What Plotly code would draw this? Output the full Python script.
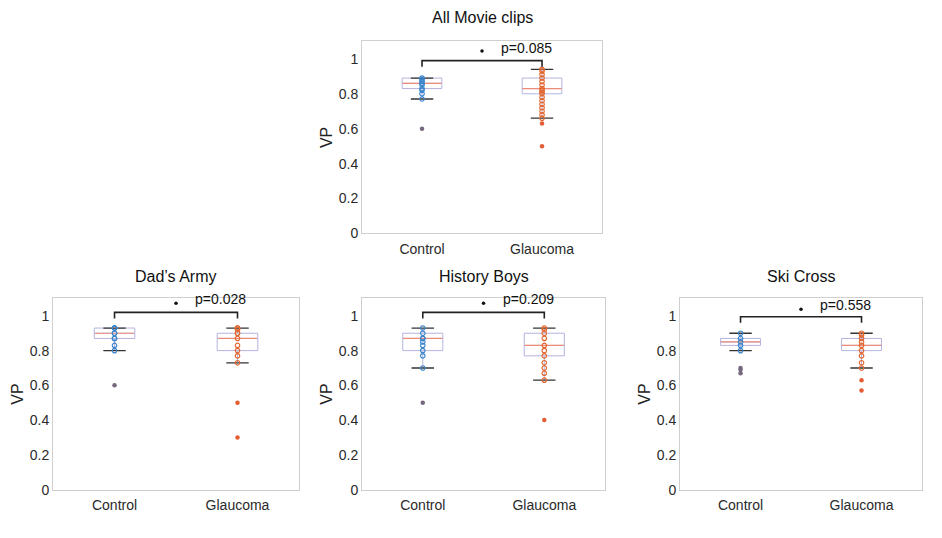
import plotly.graph_objects as go

# ---------------- data ----------------
panels = ["All Movie clips", "Dad\u2019s Army", "History Boys", "Ski Cross"]
groups = ["Control", "Glaucoma"]
p_values = ["p=0.085", "p=0.028", "p=0.209", "p=0.558"]

# box statistics [Control, Glaucoma] per panel
q1 = [[0.83, 0.80], [0.87, 0.80], [0.80, 0.77], [0.83, 0.80]]
median = [[0.86, 0.83], [0.90, 0.87], [0.87, 0.83], [0.85, 0.83]]
q3 = [[0.89, 0.89], [0.93, 0.90], [0.90, 0.90], [0.87, 0.87]]
lowerfence = [[0.77, 0.66], [0.80, 0.73], [0.70, 0.63], [0.80, 0.70]]
upperfence = [[0.89, 0.94], [0.93, 0.93], [0.93, 0.93], [0.90, 0.90]]

# individual observations inside whiskers
control_points = [
    [0.77, 0.80, 0.82, 0.83, 0.85, 0.86, 0.87, 0.88, 0.89],
    [0.80, 0.83, 0.87, 0.87, 0.90, 0.90, 0.93, 0.93, 0.93],
    [0.70, 0.77, 0.80, 0.83, 0.85, 0.87, 0.87, 0.90, 0.93],
    [0.80, 0.83, 0.85, 0.87, 0.90],
]
glaucoma_points = [
    [0.66, 0.68, 0.70, 0.72, 0.74, 0.76, 0.78, 0.80, 0.81, 0.82, 0.83, 0.85,
     0.87, 0.89, 0.91, 0.93, 0.94],
    [0.73, 0.77, 0.80, 0.83, 0.87, 0.90, 0.90, 0.92, 0.93, 0.93],
    [0.63, 0.67, 0.70, 0.73, 0.77, 0.80, 0.83, 0.87, 0.90, 0.92, 0.93],
    [0.70, 0.73, 0.77, 0.80, 0.83, 0.85, 0.87, 0.89, 0.90],
]
control_outliers = [[0.60], [0.60], [0.50], [0.70, 0.69, 0.67]]
glaucoma_outliers = [[0.63, 0.50], [0.50, 0.30], [0.40], [0.63, 0.57]]

# ---------------- layout settings ----------------
x_domains = [[0.3843, 0.6391], [0.0563, 0.3174], [0.3843, 0.6423], [0.7219, 0.9788]]
y_domains = [[0.5595, 0.9219], [0.0762, 0.4368], [0.0762, 0.4368], [0.0762, 0.4368]]
bracket_y = [0.99, 1.02, 1.02, 0.995]
star_y = [1.045, 1.072, 1.072, 1.038]
text_y = [1.06, 1.095, 1.095, 1.06]
title_y = [0.9665, 0.4777, 0.4777, 0.4777]

BOX_COLOR = "#b4b4e0"
MED_COLOR = "#ec8c78"
CAP_COLOR = "#333333"
COLORS = ["#3a85cc", "#e2662f"]
OUT_COLORS = ["#76687e", "#e65c34"]
FONT = "Liberation Sans, Arial, sans-serif"

fig = go.Figure()
layout = dict(
    width=942, height=538, margin=dict(l=0, r=0, t=0, b=0),
    paper_bgcolor="white", plot_bgcolor="white", showlegend=False,
    font=dict(family=FONT, color="#333333"),
)
annotations = []

for i in range(4):
    ax = "" if i == 0 else str(i + 1)
    xref, yref = "x" + ax, "y" + ax
    xs = [1, 2]
    # boxes
    fig.add_trace(go.Box(
        x=xs, q1=q1[i], median=median[i], q3=q3[i],
        lowerfence=lowerfence[i], upperfence=upperfence[i],
        width=0.33, whiskerwidth=0, boxpoints=False,
        line=dict(color=BOX_COLOR, width=1), fillcolor="rgba(0,0,0,0)",
        xaxis=xref, yaxis=yref, hoverinfo="skip",
    ))
    # median lines
    fig.add_trace(go.Scatter(
        x=xs, y=median[i], mode="markers", xaxis=xref, yaxis=yref,
        marker=dict(symbol="line-ew", size=28, line=dict(color=MED_COLOR, width=1.2)),
        hoverinfo="skip",
    ))
    # whisker caps
    for fence in (lowerfence[i], upperfence[i]):
        fig.add_trace(go.Scatter(
            x=xs, y=fence, mode="markers", xaxis=xref, yaxis=yref,
            marker=dict(symbol="line-ew", size=16, line=dict(color=CAP_COLOR, width=1.3)),
            hoverinfo="skip",
        ))
    # observations
    for g, pts, outs in ((0, control_points[i], control_outliers[i]),
                         (1, glaucoma_points[i], glaucoma_outliers[i])):
        fig.add_trace(go.Scatter(
            x=[xs[g]] * len(pts), y=pts, mode="markers", xaxis=xref, yaxis=yref,
            marker=dict(symbol="circle-open", size=4.5, color=COLORS[g], line=dict(width=1.2)),
        ))
        fig.add_trace(go.Scatter(
            x=[xs[g]] * len(outs), y=outs, mode="markers", xaxis=xref, yaxis=yref,
            marker=dict(symbol="circle", size=4.5, color=OUT_COLORS[g]),
        ))
    # significance bracket
    b = bracket_y[i]
    fig.add_trace(go.Scatter(
        x=[1, 1, 2, 2], y=[b - 0.035, b, b, b - 0.035], mode="lines",
        xaxis=xref, yaxis=yref, line=dict(color="#222222", width=1.6),
        hoverinfo="skip",
    ))
    fig.add_trace(go.Scatter(
        x=[1.5], y=[star_y[i]], mode="markers", xaxis=xref, yaxis=yref,
        marker=dict(symbol="circle", size=3.5, color="#111111"), hoverinfo="skip",
    ))
    annotations.append(dict(
        x=1.64, y=text_y[i], xref=xref, yref=yref, text=p_values[i],
        showarrow=False, xanchor="left", yanchor="middle",
        font=dict(size=14, color="#111111", family=FONT),
    ))
    # panel title
    annotations.append(dict(
        x=sum(x_domains[i]) / 2, y=title_y[i], xref="paper", yref="paper",
        text=panels[i], showarrow=False, xanchor="center", yanchor="middle",
        font=dict(size=16, color="#111111", family=FONT),
    ))
    layout["xaxis" + ax] = dict(
        domain=x_domains[i], anchor=yref, range=[0.5, 2.5],
        tickvals=xs, ticktext=groups, showgrid=False, zeroline=False,
        showline=True, mirror=True, linecolor="#cfcfcf", linewidth=1,
        ticks="", ticklabelstandoff=3, tickfont=dict(size=14, color="#2a2a2a"),
    )
    layout["yaxis" + ax] = dict(
        domain=y_domains[i], anchor=xref, range=[0, 1.1],
        tickvals=[0, 0.2, 0.4, 0.6, 0.8, 1.0],
        ticktext=["0", "0.2", "0.4", "0.6", "0.8", "1"],
        showgrid=False, zeroline=False, showline=True, mirror=True,
        linecolor="#cfcfcf", linewidth=1, ticks="",
        tickfont=dict(size=14, color="#2a2a2a"),
        title=dict(text="VP", font=dict(size=16, color="#222222"), standoff=2),
    )

layout["annotations"] = annotations
fig.update_layout(**layout)
fig.write_html("out.html")
